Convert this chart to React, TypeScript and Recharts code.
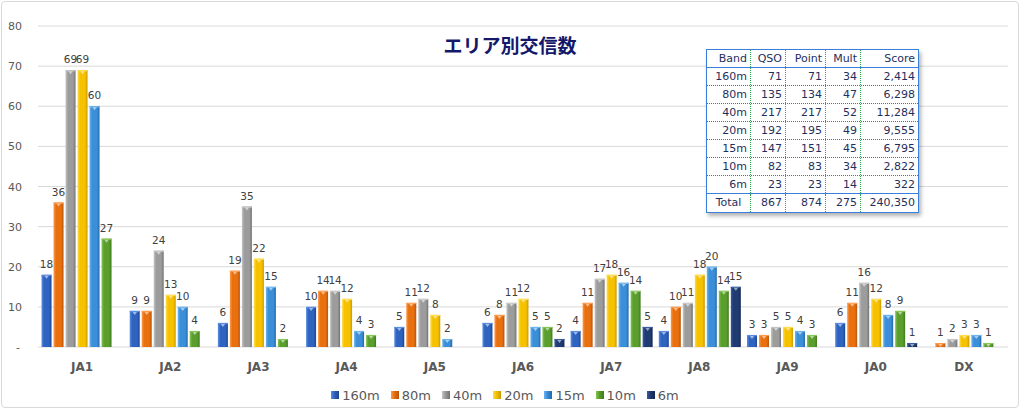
import React from 'react';
import { BarChart, Bar, XAxis, YAxis, CartesianGrid, Legend, LabelList } from 'recharts';

const categories = ['JA1', 'JA2', 'JA3', 'JA4', 'JA5', 'JA6', 'JA7', 'JA8', 'JA9', 'JA0', 'DX'];
const v160m = [18, 9, 6, 10, 5, 6, 4, 4, 3, 6, null];
const v80m = [36, 9, 19, 14, 11, 8, 11, 10, 3, 11, 1];
const v40m = [69, 24, 35, 14, 12, 11, 17, 11, 5, 16, 2];
const v20m = [69, 13, 22, 12, 8, 12, 18, 18, 5, 12, 3];
const v15m = [60, 10, 15, 4, 2, 5, 16, 20, 4, 8, 3];
const v10m = [27, 4, 2, 3, null, 5, 14, 14, 3, 9, 1];
const v6m = [null, null, null, null, null, 2, 5, 15, null, 1, null];
const yTicks = [0, 10, 20, 30, 40, 50, 60, 70, 80];

const tblBands = ['160m', '80m', '40m', '20m', '15m', '10m', '6m'];
const tblQso = [71, 135, 217, 192, 147, 82, 23];
const tblPoint = [71, 134, 217, 195, 151, 83, 23];
const tblMult = [34, 47, 52, 49, 45, 34, 14];
const tblScore = [2414, 6298, 11284, 9555, 6795, 2822, 322];
const tblTotal = ['Total', 867, 874, 275, 240350];
const tblHeader = ['Band', 'QSO', 'Point', 'Mult', 'Score'];

const seriesKeys = ['160m', '80m', '40m', '20m', '15m', '10m', '6m'];
const seriesValues = [v160m, v80m, v40m, v20m, v15m, v10m, v6m];
const palette = [
  { light: '#5b8ee0', mid: '#2f63c0', dark: '#1d4592' },
  { light: '#ff9a4a', mid: '#e8700f', dark: '#b8530a' },
  { light: '#c4c4c4', mid: '#9c9c9c', dark: '#727272' },
  { light: '#ffdc4a', mid: '#f6c200', dark: '#c99a00' },
  { light: '#6cb4f0', mid: '#3b8fd8', dark: '#2468aa' },
  { light: '#86c654', mid: '#5a9e2e', dark: '#3f7a1c' },
  { light: '#3a5c9e', mid: '#1f3b72', dark: '#132650' },
];

const data = categories.map((c, i) => {
  const row: any = { name: c };
  seriesKeys.forEach((k, j) => {
    row[k] = seriesValues[j][i];
  });
  return row;
});

const FONT = '"DejaVu Sans", Verdana, sans-serif';

const makeShape = (j: number) => (props: any) => {
  const { x, y, width, height } = props;
  if (height == null || isNaN(height) || height <= 0.3) return <g />;
  const c = palette[j];
  const capH = Math.min(3, height);
  return (
    <g>
      <rect x={x} y={y} width={width} height={height} fill={`url(#grad${j})`} />
      <rect x={x} y={y} width={width} height={Math.min(1.2, height)} fill={c.light} />
      {height > 4 && (
        <polygon
          points={`${x + width * 0.28},${y + 1} ${x + width * 0.72},${y + 1} ${x + width / 2},${y + 1 + capH}`}
          fill="#ffffff"
          fillOpacity={0.55}
        />
      )}
    </g>
  );
};

const makeLabel = () => (props: any) => {
  const { x, y, width, value } = props;
  if (value == null || value === 0) return null;
  return (
    <text
      x={x + width / 2}
      y={y - 7}
      textAnchor="middle"
      fontSize={10.5}
      fontFamily={FONT}
      fill="#404040"
    >
      {value}
    </text>
  );
};

const YTick = (props: any) => {
  const { y, payload } = props;
  const label = payload.value === 0 ? '-' : String(payload.value);
  return (
    <text x={payload.value === 0 ? 20 : 22} y={y + 4} textAnchor="end" fontSize={11} fontFamily={FONT} fill="#595959">
      {label}
    </text>
  );
};

const XTick = (props: any) => {
  const { x, y, payload } = props;
  return (
    <text x={x} y={y + 22} textAnchor="middle" fontSize={12} fontWeight="bold" fontFamily={FONT} fill="#595959">
      {payload.value}
    </text>
  );
};

const LegendContent = () => (
  <div
    style={{
      height: 20,
      display: 'flex',
      justifyContent: 'center',
      alignItems: 'center',
      fontFamily: FONT,
      fontSize: 13,
      color: '#595959',
      paddingLeft: 2,
    }}
  >
    {seriesKeys.map((k, j) => (
      <div key={k} style={{ display: 'flex', alignItems: 'center', marginRight: j === seriesKeys.length - 1 ? 0 : 11 }}>
        <div
          style={{
            width: 8,
            height: 8,
            marginRight: 3,
            background: `linear-gradient(to right, ${palette[j].light}, ${palette[j].mid} 40%, ${palette[j].dark})`,
          }}
        />
        <span>{k}</span>
      </div>
    ))}
  </div>
);

const colW = [44, 35, 40, 35, 57];

const fmt = (v: any) => (typeof v === 'number' ? v.toLocaleString('en-US') : v);

const TableRow = ({ cells, border, first }: { cells: any[]; border: string; first?: boolean }) => (
  <div style={{ display: 'flex', height: 18, boxSizing: 'border-box', borderBottom: border }}>
    {cells.map((c, i) => (
      <div
        key={i}
        style={{
          width: colW[i],
          boxSizing: 'border-box',
          borderRight: i < cells.length - 1 ? '1px dotted #2aa84a' : 'none',
          textAlign: first && i === 0 && c === 'Total' ? 'center' : 'right',
          paddingRight: first && i === 0 && c === 'Total' ? 0 : 3,
          lineHeight: '17px',
        }}
      >
        {fmt(c)}
      </div>
    ))}
  </div>
);

const ScoreTable = () => {
  const rows = tblBands.map((b, i) => [b, tblQso[i], tblPoint[i], tblMult[i], tblScore[i]]);
  return (
    <div
      style={{
        position: 'absolute',
        left: 706,
        top: 49,
        width: 213,
        border: '1.5px solid #3a7fdc',
        boxSizing: 'border-box',
        background: '#ffffff',
        boxShadow: '2px 3px 4px rgba(0,0,0,0.3)',
        fontFamily: FONT,
        fontSize: 11,
        color: '#1f2f5e',
      }}
    >
      <TableRow cells={tblHeader} border="1px solid #3a7fdc" />
      {rows.map((r, i) => (
        <TableRow key={i} cells={r} border={i === rows.length - 1 ? '1px solid #3a7fdc' : '1px dotted #3a6fd0'} />
      ))}
      <TableRow cells={tblTotal} border="none" first />
    </div>
  );
};

export default function App() {
  return (
    <div style={{ position: 'absolute', left: 0, top: 0, width: 1024, height: 415, background: '#ffffff' }}>
      <div
        style={{
          position: 'absolute',
          left: 1,
          top: 1,
          width: 1018,
          height: 407,
          border: '1px solid #d9d9d9',
          borderRadius: 4,
          boxSizing: 'border-box',
        }}
      />
      <BarChart
        width={1024}
        height={415}
        data={data}
        margin={{ top: 26, right: 16, bottom: 10, left: 0 }}
        barCategoryGap="4%"
        barGap={2}
      >
        <defs>
          {palette.map((c, j) => (
            <linearGradient key={j} id={`grad${j}`} x1="0" y1="0" x2="1" y2="0">
              <stop offset="0" stopColor={c.light} />
              <stop offset="0.25" stopColor={c.mid} />
              <stop offset="0.75" stopColor={c.mid} />
              <stop offset="1" stopColor={c.dark} />
            </linearGradient>
          ))}
        </defs>
        <CartesianGrid vertical={false} stroke="#d9d9d9" strokeWidth={1} />
        <XAxis dataKey="name" height={38} tickLine={false} axisLine={false} tickSize={0} tick={<XTick />} interval={0} />
        <YAxis
          width={38}
          domain={[0, 80]}
          ticks={yTicks}
          tickLine={false}
          axisLine={false}
          tick={<YTick />}
          interval={0}
        />
        <Legend verticalAlign="bottom" content={<LegendContent />} />
        {seriesKeys.map((k, j) => (
          <Bar key={k} dataKey={k} fill={palette[j].mid} isAnimationActive={false} shape={makeShape(j)}>
            <LabelList dataKey={k} content={makeLabel()} />
          </Bar>
        ))}
      </BarChart>
      <div
        style={{
          position: 'absolute',
          left: 0,
          width: 1020,
          top: 32,
          textAlign: 'center',
          fontFamily: '"Noto Sans CJK JP", sans-serif',
          fontWeight: 'bold',
          fontSize: 19,
          lineHeight: '26px',
          color: '#14186a',
        }}
      >
        エリア別交信数
      </div>
      <ScoreTable />
    </div>
  );
}
